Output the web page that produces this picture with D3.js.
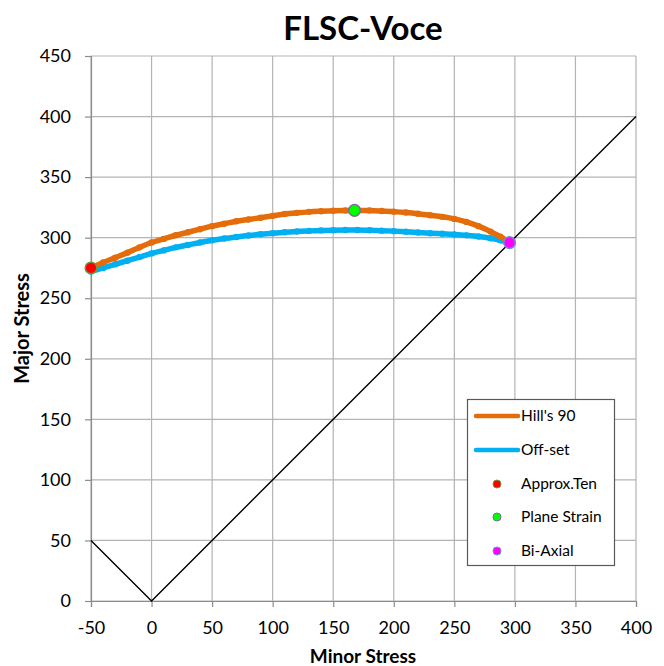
<!DOCTYPE html>
<html>
<head>
<meta charset="utf-8">
<script src="https://cdn.jsdelivr.net/npm/d3@7"></script>
<style>
  html, body { margin: 0; padding: 0; background: #fff; }
  svg { display: block; }
  text { font-family: Lato, "Open Sans", sans-serif; fill: #000; }
</style>
</head>
<body>
<svg id="chart" width="664" height="666"></svg>
<script>
// Minor stress (x) and major stress (y) for each yield-locus curve
const hillX   = [-50, -40, -30, -20, -10, 0, 10, 20, 30, 40, 50, 60, 70, 80, 90, 100, 110, 120, 130, 140, 150, 160, 167.6, 180, 190, 200, 210, 220, 230, 240, 250, 260, 270, 280, 288, 295.6];
const hillY   = [275, 279.5, 283.5, 287.5, 292, 296, 299, 302, 304.5, 307, 309.5, 311.5, 313.5, 315, 316.5, 318, 319.5, 320.5, 321.3, 321.8, 322.2, 322.4, 322.5, 322.4, 322, 321.5, 320.8, 319.8, 318.5, 317.2, 315.5, 313, 309.5, 305, 300.8, 295.9];
const offsetX = [-50, -40, -30, -20, -10, 0, 10, 20, 30, 40, 50, 60, 70, 80, 90, 100, 110, 120, 130, 140, 150, 160, 170, 180, 190, 200, 210, 220, 230, 240, 250, 260, 270, 280, 288, 295.6];
const offsetY = [272, 275, 278, 281, 284, 287, 289.5, 292, 294, 296, 297.8, 299.3, 300.6, 301.8, 302.8, 303.7, 304.5, 305.1, 305.6, 306, 306.2, 306.3, 306.3, 306.1, 305.8, 305.4, 304.9, 304.3, 303.7, 303.2, 302.6, 301.9, 301, 299.5, 297.8, 295.9];

// Reference line: tension side and equal-biaxial diagonal
const diagX = [-50, 0, 400];
const diagY = [50, 0, 400];

// Characteristic strain-path points
const pointNames = ["Approx.Ten", "Plane Strain", "Bi-Axial"];
const pointX = [-50, 167.6, 295.6];
const pointY = [275, 322.5, 295.9];
const pointFill = ["#ff0000", "#00ff00", "#ff00ff"];
const pointStroke = ["#77933c", "#7f6aa0", "#6f8fcf"];

const seriesNames = ["Hill's 90", "Off-set"];
const seriesColors = ["#e46c0a", "#00b0f0"];

const xTicks = [-50, 0, 50, 100, 150, 200, 250, 300, 350, 400];
const yTicks = [0, 50, 100, 150, 200, 250, 300, 350, 400, 450];

const svg = d3.select("#chart");
const margin = { left: 91, right: 28, top: 56, bottom: 65 };
const W = 664, H = 666;

const x = d3.scaleLinear().domain([-50, 400]).range([margin.left, W - margin.right]);
const y = d3.scaleLinear().domain([0, 450]).range([H - margin.bottom, margin.top]);

// Grid
const grid = svg.append("g");
grid.selectAll(".gx").data(xTicks).join("line")
  .attr("x1", d => x(d)).attr("x2", d => x(d))
  .attr("y1", y(0)).attr("y2", y(450))
  .attr("stroke", "#b3b3b3").attr("stroke-width", 1.2);
grid.selectAll(".gy").data(yTicks).join("line")
  .attr("x1", x(-50)).attr("x2", x(400))
  .attr("y1", d => y(d)).attr("y2", d => y(d))
  .attr("stroke", "#b3b3b3").attr("stroke-width", 1.2);

// Axes
const fmt = d => String(d);
const xAxis = svg.append("g").attr("transform", `translate(0,${y(0)})`)
  .call(d3.axisBottom(x).tickValues(xTicks).tickSize(6).tickPadding(14).tickFormat(fmt));
const yAxis = svg.append("g").attr("transform", `translate(${x(-50)},0)`)
  .call(d3.axisLeft(y).tickValues(yTicks).tickSize(6).tickPadding(14).tickFormat(fmt));
[xAxis, yAxis].forEach(a => {
  a.select(".domain").attr("stroke", "#8c8c8c").attr("stroke-width", 1.2);
  a.selectAll(".tick line").attr("stroke", "#8c8c8c").attr("stroke-width", 1.2);
  a.selectAll(".tick text").style("font-size", "18px").style("font-family", "Lato, sans-serif").attr("fill", "#000");
});

// Diagonal reference line
svg.append("path")
  .attr("d", d3.line()(diagX.map((d, i) => [x(d), y(diagY[i])])))
  .attr("fill", "none").attr("stroke", "#000").attr("stroke-width", 1.4);

// Curves
const line = d3.line().curve(d3.curveCatmullRom);
const series = [
  { xs: hillX, ys: hillY, color: seriesColors[0] },
  { xs: offsetX, ys: offsetY, color: seriesColors[1] }
];
series.slice().reverse().forEach(s => {
  const pts = s.xs.map((d, i) => [x(d), y(s.ys[i])]);
  svg.append("path").attr("d", line(pts))
    .attr("fill", "none").attr("stroke", s.color).attr("stroke-width", 5.5)
    .attr("stroke-linecap", "round").attr("stroke-linejoin", "round");
  svg.append("g").selectAll("circle").data(pts).join("circle")
    .attr("cx", d => d[0]).attr("cy", d => d[1]).attr("r", 3.2).attr("fill", s.color);
});

// Key points
svg.append("g").selectAll("circle").data(pointX).join("circle")
  .attr("cx", d => x(d)).attr("cy", (d, i) => y(pointY[i])).attr("r", 5.8)
  .attr("fill", (d, i) => pointFill[i]).attr("stroke", (d, i) => pointStroke[i]).attr("stroke-width", 1.5);

// Legend
const lg = svg.append("g");
lg.append("rect").attr("x", 467.5).attr("y", 399.5).attr("width", 147).attr("height", 166)
  .attr("fill", "#fff").attr("stroke", "#595959").attr("stroke-width", 1.2);
const rowY = [416, 450, 484, 517, 551];
seriesNames.forEach((n, i) => {
  lg.append("line").attr("x1", 476).attr("x2", 518).attr("y1", rowY[i]).attr("y2", rowY[i])
    .attr("stroke", seriesColors[i]).attr("stroke-width", 4.5).attr("stroke-linecap", "round");
  lg.append("text").attr("x", 521).attr("y", rowY[i]).attr("dy", "0.35em")
    .style("font-size", "15.5px").text(n);
});
pointNames.forEach((n, i) => {
  lg.append("circle").attr("cx", 497).attr("cy", rowY[i + 2]).attr("r", 4)
    .attr("fill", pointFill[i]).attr("stroke", pointStroke[i]).attr("stroke-width", 1);
  lg.append("text").attr("x", 521).attr("y", rowY[i + 2]).attr("dy", "0.35em")
    .style("font-size", "15.5px").text(n);
});

// Titles
svg.append("text").attr("x", 363).attr("y", 40).attr("text-anchor", "middle")
  .style("font-size", "33px").style("font-weight", "bold").text("FLSC-Voce");
svg.append("text").attr("x", 363).attr("y", 663).attr("text-anchor", "middle")
  .style("font-size", "19px").style("font-weight", "bold").text("Minor Stress");
svg.append("text").attr("transform", `translate(29,${y(225)}) rotate(-90)`).attr("text-anchor", "middle")
  .style("font-size", "20px").style("font-weight", "bold").text("Major Stress");
</script>
</body>
</html>
